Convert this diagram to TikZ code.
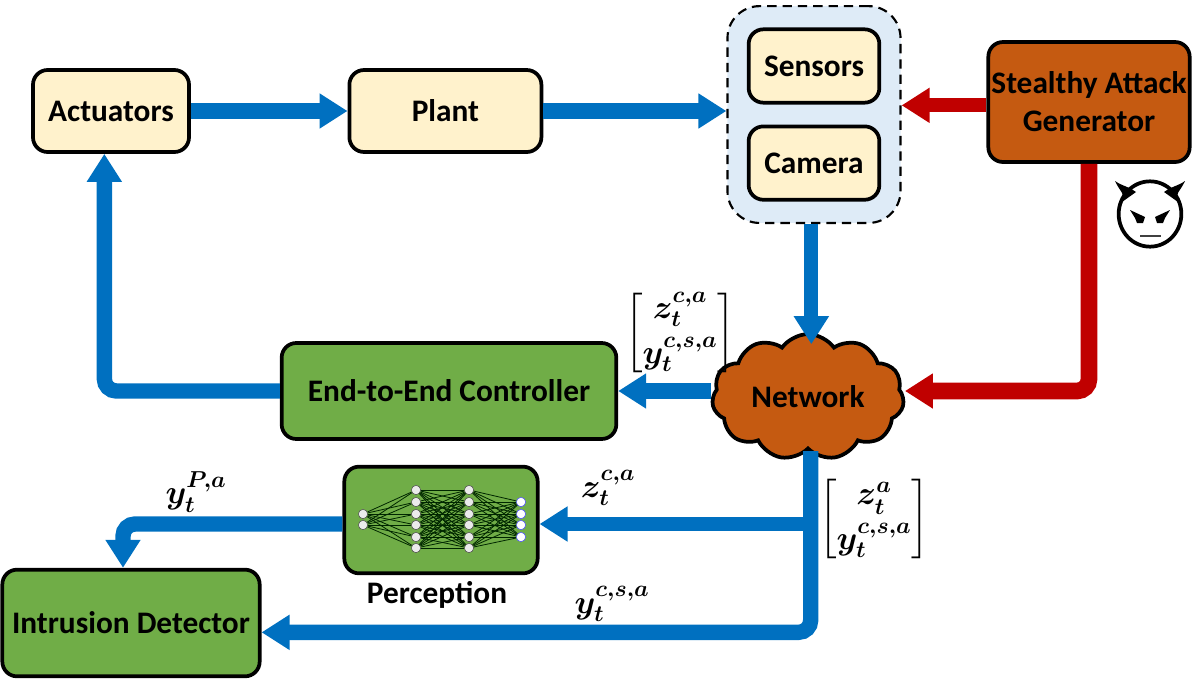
\documentclass[tikz,border=0pt]{standalone}
\usepackage{amsmath}
\usepackage{amssymb}
\usepackage{fontspec}
\setmainfont{Carlito}
\DeclareMathSizes{24.88}{24.88}{17.28}{12}
\delimiterfactor=800
\delimitershortfall=20pt
\usetikzlibrary{arrows.meta, positioning, fit, backgrounds, calc, shapes.symbols, shapes.geometric}
\definecolor{loopBlue}{HTML}{0070C0}
\definecolor{attackRed}{HTML}{C00000}
\definecolor{attackBrown}{HTML}{C55A11}
\definecolor{ctrlGreen}{HTML}{70AD47}
\definecolor{plantCream}{HTML}{FFF2CC}
\definecolor{groupBlue}{HTML}{DEEBF7}
\begin{document}
\begin{tikzpicture}[
  x=0.75pt, y=-0.75pt,
  font=\fontsize{23.5}{28.5}\selectfont\bfseries,
  blk/.style={draw=black, line width=2.8pt, rounded corners=11pt, align=center, inner sep=0pt},
  plantbox/.style={blk, fill=plantCream},
  ctrl/.style={blk, fill=ctrlGreen},
  atk/.style={blk, fill=attackBrown},
  flow/.style={line width=11.5pt, draw=loopBlue, rounded corners=9pt,
               -{Triangle[length=21pt, width=25pt]}},
  redflow/.style={flow, draw=attackRed},
  sig/.style={font=\Huge, inner sep=0pt},
  neuron/.style={circle, draw=black!70, line width=0.4pt, fill=black!8, minimum size=7pt, inner sep=0pt},
  outneuron/.style={neuron, draw=blue!70!white, fill=white},
  syn/.style={black!85!green, line width=0.6pt},
]
\useasboundingbox (0,0) rectangle (1196,682);

% top row
\node[plantbox, minimum width=117pt, minimum height=61.5pt] (actuators) at (111,111) {Actuators};
\node[plantbox, minimum width=144pt, minimum height=61.5pt, right=117.5pt of actuators] (plant) {Plant};
\node[plantbox, minimum width=98pt, minimum height=55pt] (sensors) at (814,66) {Sensors};
\node[plantbox, minimum width=98pt, minimum height=55pt, below=15pt of sensors] (camera) {Camera};
\begin{scope}[on background layer]
  \node[draw=black, dash pattern=on 7pt off 4.5pt, line width=1.6pt, fill=groupBlue, rounded corners=24pt,
        inner xsep=14.5pt, inner ysep=16pt, fit=(sensors)(camera)] (group) {};
\end{scope}
\node[atk, minimum width=151pt, minimum height=90pt] (attack) at (1089,102) {Stealthy Attack\\ Generator};

% middle and bottom rows
\node[ctrl, minimum width=251pt, minimum height=72pt] (controller) at (449,391) {End-to-End Controller};
\node[cloud, cloud puffs=11, cloud puff arc=110, aspect=1.5, draw=black, line width=2.8pt, fill=attackBrown,
      minimum width=144pt, minimum height=94pt, inner sep=0pt] (network) at (808,397) {Network};
\node[ctrl, minimum width=145pt, minimum height=80pt] (perception) at (441,520) {};
\node[below=1pt of perception, xshift=-3pt] (perceptionlabel) {Perception};
\node[ctrl, minimum width=193pt, minimum height=80pt] (detector) at (131,623) {Intrusion Detector};

% perception net
\foreach \i/\yy in {1/514,2/525}
  \node[neuron] (a\i) at (363,\yy) {};
\foreach \i/\yy in {1/490,2/502,3/514,4/525,5/537,6/548} {
  \node[neuron] (b\i) at (416,\yy) {};
  \node[neuron] (c\i) at (469,\yy) {};
}
\foreach \i/\yy in {1/502,2/514,3/525,4/537}
  \node[outneuron] (d\i) at (521,\yy) {};
\foreach \i in {1,2}
  \foreach \j in {1,...,6}
    \draw[syn] (a\i) -- (b\j);
\foreach \i in {1,...,6}
  \foreach \j in {1,...,6}
    \draw[syn] (b\i) -- (c\j);
\foreach \i in {1,...,6}
  \foreach \j in {1,...,4}
    \draw[syn] (c\i) -- (d\j);

% plant loop
\draw[flow] (actuators.east) -- (plant.west);
\draw[flow] (plant.east) -- (plant.east -| group.west);
\draw[flow, line width=10.5pt] ([xshift=-2pt]group.south) -- ([xshift=-2pt, yshift=-9pt]group.south |- network.north);
\draw[flow] ([yshift=4.5pt]network.west) -- ([yshift=4.5pt]network.west -| controller.east);
\draw[flow] (controller.west) -| ([xshift=-5pt]actuators.south);
\draw[redflow, line width=10.5pt] ([yshift=-2.5pt]attack.west) -- ([yshift=-2.5pt]attack.west -| group.east);
\draw[redflow, line width=12.5pt] (attack.south) |- ([yshift=4.5pt]network.east);

% detector paths
\coordinate (tap) at (807,524);
\draw[flow] ([xshift=2pt]network.south) |- ([yshift=-7pt]detector.east);
\draw[flow, line width=10.5pt] (tap) -- (tap -| perception.east);
\draw[flow] (perception.west |- tap) -| ([xshift=-6pt]detector.north);

% signal labels
\node[sig] (zyctrl) at (680,333) {$\begin{bmatrix}\boldsymbol{z_t^{c,a}}\\[4pt] \boldsymbol{y_t^{c,s,a}}\end{bmatrix}$};
\node[sig] (zydet) at (874,519) {$\begin{bmatrix}\boldsymbol{z_t^{a}}\\[4pt] \boldsymbol{y_t^{c,s,a}}\end{bmatrix}$};
\node[sig] (zpercep) at (608,488) {$\boldsymbol{z_t^{c,a}}$};
\node[sig] (yperc) at (196,492) {$\boldsymbol{y_t^{P,a}}$};
\node[sig] (ydet) at (612,604) {$\boldsymbol{y_t^{c,s,a}}$};

% devil
\node[ellipse, draw=black, line width=2.8pt, fill=white, minimum width=47pt, minimum height=49pt,
      inner sep=0pt] (devil) at (1150,214) {};
\begin{scope}[shift={(devil.center)}]
  \fill (-35,-33) .. controls (-30,-22) and (-24,-20) .. (-28,-12) -- (-14,-22) .. controls (-20,-27) and (-28,-28) .. cycle;
  \fill (35,-33) .. controls (30,-22) and (24,-20) .. (28,-12) -- (14,-22) .. controls (20,-27) and (28,-28) .. cycle;
  \fill (-20,-4) -- (-5,3) -- (-7,9) -- (-13,9) -- (-15,4) -- cycle;
  \fill (20,-4) -- (5,3) -- (7,9) -- (13,9) -- (15,4) -- cycle;
  \draw[line width=1.2pt, black!75] (-10,22) -- (11,22);
\end{scope}
\end{tikzpicture}
\end{document}
